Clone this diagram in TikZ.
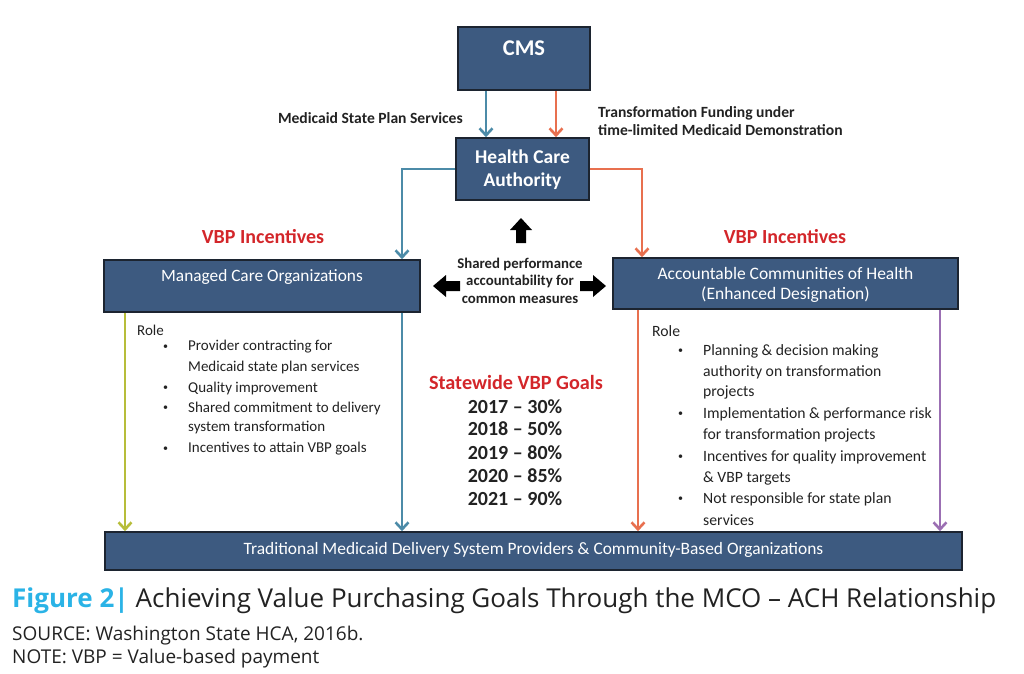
\documentclass[tikz,border=0pt]{standalone}
\usepackage{fontspec}
\setmainfont{Carlito}
\newfontfamily\capfont[Ligatures=TeX]{Open Sans}
\usetikzlibrary{arrows.meta}
\definecolor{boxfill}{HTML}{3D5A80}
\definecolor{boxline}{HTML}{1C2430}
\definecolor{lblue}{HTML}{4C8BA8}
\definecolor{lorange}{HTML}{E8704F}
\definecolor{lgreen}{HTML}{B7BD3A}
\definecolor{lpurple}{HTML}{9B6FB3}
\definecolor{vred}{HTML}{D3262A}
\definecolor{capcyan}{HTML}{2AB3E6}
\definecolor{txt}{HTML}{222222}
\newcommand{\fs}[1]{\fontsize{#1}{#1}\selectfont}
\newcommand{\smbul}{{\fs{10}\textbullet}}
\tikzset{
  box/.style={draw=boxline, line width=1.6pt, fill=boxfill, inner sep=0pt},
  boxtext/.style={text=white, inner sep=0pt, align=center},
  conn/.style={line width=2.6pt, -{Straight Barb[length=7pt,width=13pt,line width=2.6pt]}},
  lbl/.style={text=txt, inner sep=0pt},
  role/.style={text=txt, inner sep=0pt, anchor=west, font=\fs{15}},
  rolea/.style={text=txt, inner sep=0pt, anchor=west, font=\fs{15.7}},
  goal/.style={text=txt, inner sep=0pt, font=\bfseries\fs{20}},
}
\begin{document}
\begin{tikzpicture}[x=1pt,y=-1pt]
\useasboundingbox (0,0) rectangle (1024,673);
% boxes
\node[box, minimum width=132pt, minimum height=63pt] (cms) at (524,58.5) {};
\node[boxtext, font=\bfseries\fs{22.5}] (cmst) at (524,48) {CMS};
\node[box, minimum width=133pt, minimum height=62pt] (hca) at (522.5,169) {};
\node[boxtext, font=\bfseries\fs{19.5}, align=center] (hcat) at (522.5,169.5) {Health Care\\[4pt]Authority};
\node[box, minimum width=316pt, minimum height=52pt] (mco) at (262,286) {};
\node[boxtext, font=\fs{17.3}] (mcot) at (262,277) {Managed Care Organizations};
\node[box, minimum width=345pt, minimum height=51pt] (ach) at (785.5,283.5) {};
\node[boxtext, font=\fs{17.5}, align=center] (acht) at (785.5,285) {Accountable Communities of Health\\[2.5pt](Enhanced Designation)};
\node[box, minimum width=857pt, minimum height=38pt] (bot) at (533.5,551) {};
\node[boxtext, font=\fs{17.4}] (bott) at (533.5,550) {Traditional Medicaid Delivery System Providers \& Community-Based Organizations};
% connector x positions
\coordinate (bx) at (486,0);
\coordinate (ox) at (556,0);
\coordinate (lx) at (402,0);
\coordinate (rx) at (642,0);
\coordinate (gx) at (125,0);
\coordinate (cx) at (638,0);
\coordinate (px) at (940,0);
\draw[conn, lblue] (cms.south -| bx) -- (hca.north -| bx);
\draw[conn, lorange] (cms.south -| ox) -- (hca.north -| ox);
\draw[conn, lblue] (hca.west) -| (mco.north -| lx);
\draw[conn, lorange] (hca.east) -| (ach.north -| rx);
\draw[conn, lgreen] (mco.south -| gx) -- (bot.north -| gx);
\draw[conn, lblue] (mco.south -| lx) -- (bot.north -| lx);
\draw[conn, lorange] (ach.south -| cx) -- (bot.north -| cx);
\draw[conn, lpurple] (ach.south -| px) -- (bot.north -| px);
% labels on top
\node[lbl, anchor=east, font=\bfseries\fs{15.6}] (msps) at (463,118) {Medicaid State Plan Services};
\node[lbl, anchor=west, font=\bfseries\fs{15.6}, align=left] (tf) at (598,121) {Transformation Funding under\\[2.4pt]time-limited Medicaid Demonstration};
\node[inner sep=0pt, text=vred, font=\bfseries\fs{20}] (vbl) at (263,237) {VBP Incentives};
\node[inner sep=0pt, text=vred, font=\bfseries\fs{20}] (vbr) at (785,237) {VBP Incentives};
\node[lbl, font=\bfseries\fs{14.8}, align=center] (shared) at (520,280.5) {Shared performance\\[2.7pt]accountability for\\[2.7pt]common measures};
% fat arrows
\fill[black] (516,243) -- (516,230) -- (510,230) -- (521,218) -- (532,230) -- (526,230) -- (526,243) -- cycle;
\fill[black] (460,281) -- (446,281) -- (446,275) -- (433,286) -- (446,297) -- (446,291) -- (460,291) -- cycle;
\fill[black] (580,281) -- (593,281) -- (593,275) -- (606,286) -- (593,297) -- (593,291) -- (580,291) -- cycle;
% MCO role
\node[role] (mr) at (137,330) {Role};
\foreach \y/\t/\b in {347/Provider contracting for/1, 367/Medicaid state plan services/0, 388/Quality improvement/1, 408/Shared commitment to delivery/1, 428/system transformation/0, 449/Incentives to attain VBP goals/1}{
  \node[role] (m\y) at (188,\y) {\t};
  \ifnum\b=1 \node[role] (mb\y) at (163,\y) {\smbul}; \fi
}
% goals
\node[inner sep=0pt, text=vred, font=\bfseries\fs{20.2}] (goals) at (516,382) {Statewide VBP Goals};
\node[goal] (g1) at (515,407) {2017 – 30\%};
\node[goal] (g2) at (515,429) {2018 – 50\%};
\node[goal] (g3) at (515,453) {2019 – 80\%};
\node[goal] (g4) at (515,476) {2020 – 85\%};
\node[goal] (g5) at (515,499) {2021 – 90\%};
% ACH role
\node[rolea] (ar) at (652,331) {Role};
\foreach \y/\t/\b in {351/Planning \& decision making/1, 372/authority on transformation/0, 392/projects/0, 414/Implementation \& performance risk/1, 435/for transformation projects/0, 457/Incentives for quality improvement/1, 478/\& VBP targets/0, 499/Not responsible for state plan/1, 520/services/0}{
  \node[rolea] (a\y) at (703,\y) {\t};
  \ifnum\b=1 \node[rolea] (ab\y) at (678,\y) {\smbul}; \fi
}
% caption
\node[inner sep=0pt, anchor=base west, font=\capfont\fs{26}] (cap) at (12,607) {\textcolor{capcyan}{\bfseries Figure 2|}\hspace{7pt}\textcolor{txt}{Achieving Value Purchasing Goals Through the MCO – ACH Relationship}};
\node[inner sep=0pt, anchor=base west, font=\capfont\fs{19}, text=txt] (src) at (12,640) {SOURCE: Washington State HCA, 2016b.};
\node[inner sep=0pt, anchor=base west, font=\capfont\fs{19}, text=txt] (note) at (12,663) {NOTE: VBP = Value-based payment};
\end{tikzpicture}
\end{document}
